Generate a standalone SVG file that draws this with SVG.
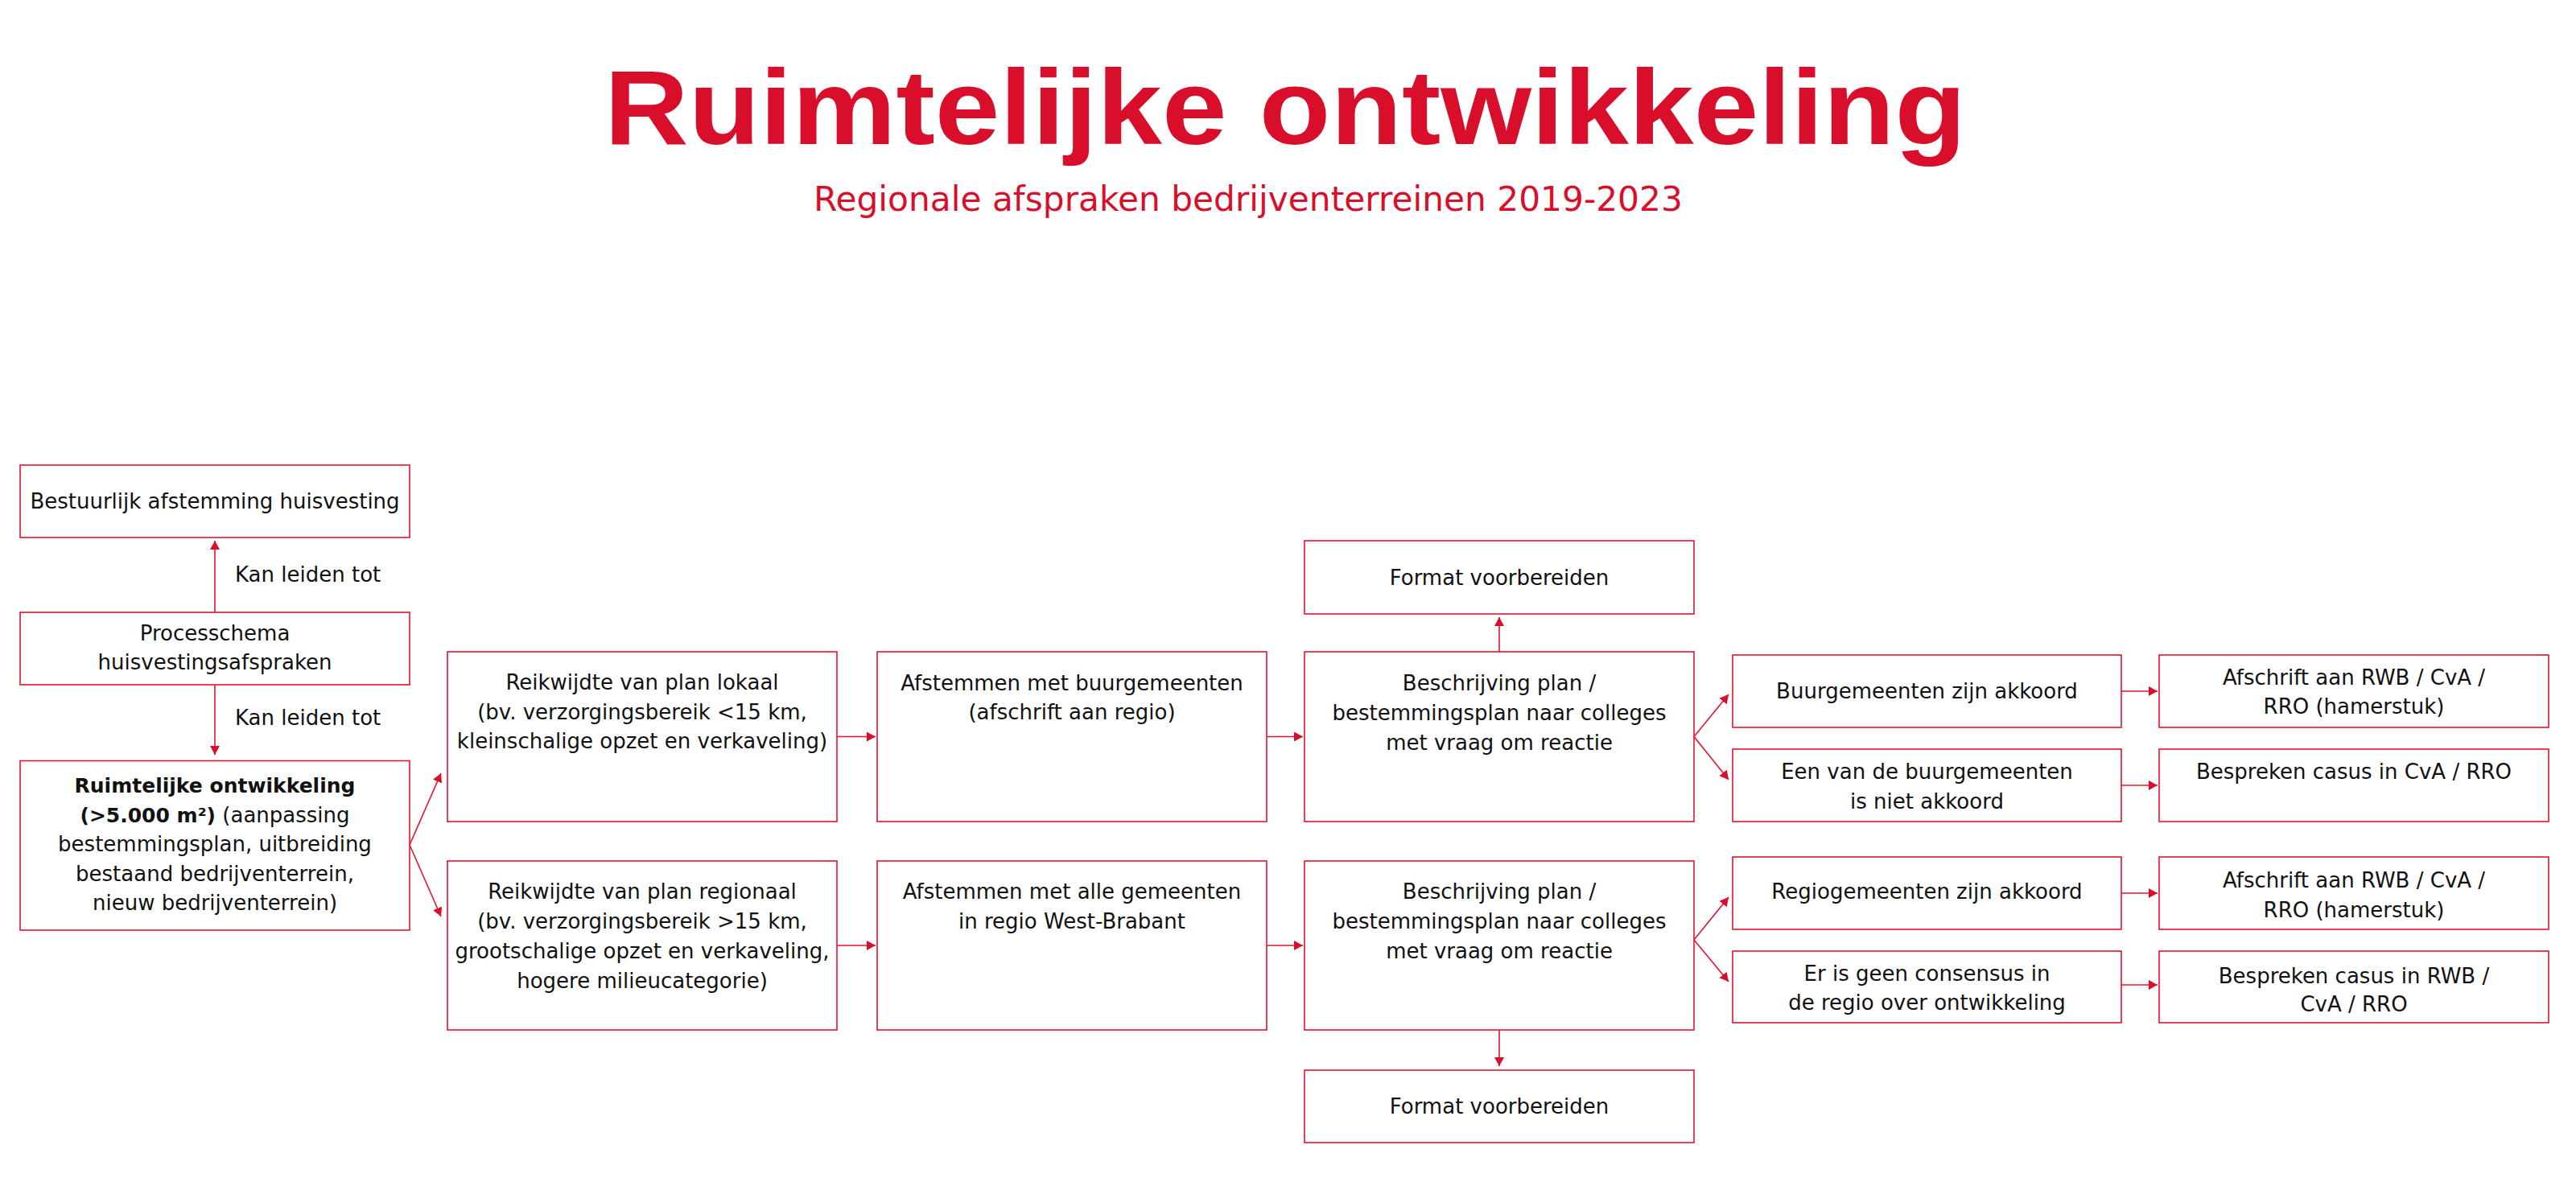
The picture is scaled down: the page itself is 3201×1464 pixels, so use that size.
<svg xmlns="http://www.w3.org/2000/svg" width="3201" height="1464" viewBox="0 0 3201 1464">
<style>
.bg{fill:#ffffff}
.box{fill:#ffffff;stroke:#E2142D;stroke-width:1.6}
.t{font-family:"DejaVu Sans","Liberation Sans",sans-serif;font-size:26px;fill:#111111;text-anchor:middle}
.lbl{font-family:"DejaVu Sans","Liberation Sans",sans-serif;font-size:26px;fill:#111111}
.b{font-weight:bold;font-size:25px}
.title{font-family:"Liberation Sans",Arial,sans-serif;font-weight:bold;font-size:131px;fill:#D80E2A}
.sub{font-family:"DejaVu Sans","Liberation Sans",sans-serif;font-size:42.3px;fill:#D80E2A}
.c{fill:none;stroke:#E2142D;stroke-width:1.6;marker-end:url(#ah)}
</style>
<defs>
<marker id="ah" markerUnits="userSpaceOnUse" markerWidth="12" markerHeight="12" refX="11" refY="6" orient="auto">
<path d="M0,0 L11,6 L0,12 z" fill="#D80E2A"/>
</marker>
</defs>
<rect class="bg" x="0" y="0" width="3201" height="1464"/>

<g id="header">
<text class="title" x="751" y="179" textLength="1692" lengthAdjust="spacingAndGlyphs">Ruimtelijke ontwikkeling</text>
<text class="sub" x="1011" y="262">Regionale afspraken bedrijventerreinen 2019-2023</text>
</g>

<g id="connectors">
<line class="c" x1="267" y1="761" x2="267" y2="672"/>
<line class="c" x1="267" y1="851" x2="267" y2="938"/>
<line class="c" x1="509" y1="1050" x2="548" y2="961"/>
<line class="c" x1="509" y1="1050" x2="548" y2="1139"/>
<line class="c" x1="1040" y1="915.5" x2="1088" y2="915.5"/>
<line class="c" x1="1040" y1="1175" x2="1088" y2="1175"/>
<line class="c" x1="1574" y1="915.5" x2="1619" y2="915.5"/>
<line class="c" x1="1574" y1="1175" x2="1619" y2="1175"/>
<line class="c" x1="1863" y1="810" x2="1863" y2="767"/>
<line class="c" x1="1863" y1="1280" x2="1863" y2="1325"/>
<line class="c" x1="2105" y1="915.5" x2="2148" y2="863"/>
<line class="c" x1="2105" y1="915.5" x2="2148" y2="969"/>
<line class="c" x1="2105" y1="1168" x2="2148" y2="1115"/>
<line class="c" x1="2105" y1="1168" x2="2148" y2="1220"/>
<line class="c" x1="2636" y1="859" x2="2681" y2="859"/>
<line class="c" x1="2636" y1="976" x2="2681" y2="976"/>
<line class="c" x1="2636" y1="1110" x2="2681" y2="1110"/>
<line class="c" x1="2636" y1="1224" x2="2681" y2="1224"/>
<text class="lbl" x="292" y="723">Kan leiden tot</text>
<text class="lbl" x="292" y="901">Kan leiden tot</text>
</g>

<g id="n-bestuurlijk">
<rect class="box" x="25" y="578" width="484" height="90"/>
<text class="t" x="267" y="632">Bestuurlijk afstemming huisvesting</text>
</g>

<g id="n-processchema">
<rect class="box" x="25" y="761" width="484" height="90"/>
<text class="t" x="267" y="796">Processchema</text>
<text class="t" x="267" y="832">huisvestingsafspraken</text>
</g>

<g id="n-ruimtelijke">
<rect class="box" x="25" y="945.5" width="484" height="210.5"/>
<text class="t b" x="267" y="985">Ruimtelijke ontwikkeling</text>
<text class="t" x="267" y="1022"><tspan class="b">(&gt;5.000 m²)</tspan> (aanpassing</text>
<text class="t" x="267" y="1058">bestemmingsplan, uitbreiding</text>
<text class="t" x="267" y="1095">bestaand bedrijventerrein,</text>
<text class="t" x="267" y="1131">nieuw bedrijventerrein)</text>
</g>

<g id="n-lokaal">
<rect class="box" x="556" y="810" width="484" height="211"/>
<text class="t" x="798" y="857">Reikwijdte van plan lokaal</text>
<text class="t" x="798" y="894">(bv. verzorgingsbereik &lt;15 km,</text>
<text class="t" x="798" y="930">kleinschalige opzet en verkaveling)</text>
</g>

<g id="n-regionaal">
<rect class="box" x="556" y="1070" width="484" height="210"/>
<text class="t" x="798" y="1117">Reikwijdte van plan regionaal</text>
<text class="t" x="798" y="1154">(bv. verzorgingsbereik &gt;15 km,</text>
<text class="t" x="798" y="1191">grootschalige opzet en verkaveling,</text>
<text class="t" x="798" y="1228">hogere milieucategorie)</text>
</g>

<g id="n-afstemmen-buur">
<rect class="box" x="1090" y="810" width="484" height="211"/>
<text class="t" x="1332" y="858">Afstemmen met buurgemeenten</text>
<text class="t" x="1332" y="894">(afschrift aan regio)</text>
</g>

<g id="n-afstemmen-alle">
<rect class="box" x="1090" y="1070" width="484" height="210"/>
<text class="t" x="1332" y="1117">Afstemmen met alle gemeenten</text>
<text class="t" x="1332" y="1154">in regio West-Brabant</text>
</g>

<g id="n-format-top">
<rect class="box" x="1621" y="672" width="484" height="91"/>
<text class="t" x="1863" y="727">Format voorbereiden</text>
</g>

<g id="n-beschrijving-top">
<rect class="box" x="1621" y="810" width="484" height="211"/>
<text class="t" x="1863" y="858">Beschrijving plan /</text>
<text class="t" x="1863" y="895">bestemmingsplan naar colleges</text>
<text class="t" x="1863" y="932">met vraag om reactie</text>
</g>

<g id="n-beschrijving-bottom">
<rect class="box" x="1621" y="1070" width="484" height="210"/>
<text class="t" x="1863" y="1117">Beschrijving plan /</text>
<text class="t" x="1863" y="1154">bestemmingsplan naar colleges</text>
<text class="t" x="1863" y="1191">met vraag om reactie</text>
</g>

<g id="n-format-bottom">
<rect class="box" x="1621" y="1330" width="484" height="90"/>
<text class="t" x="1863" y="1384">Format voorbereiden</text>
</g>

<g id="n-buur-akkoord">
<rect class="box" x="2153" y="814" width="483" height="90"/>
<text class="t" x="2394.5" y="868">Buurgemeenten zijn akkoord</text>
</g>

<g id="n-buur-niet">
<rect class="box" x="2153" y="931" width="483" height="90"/>
<text class="t" x="2394.5" y="968">Een van de buurgemeenten</text>
<text class="t" x="2394.5" y="1005">is niet akkoord</text>
</g>

<g id="n-regio-akkoord">
<rect class="box" x="2153" y="1065" width="483" height="90"/>
<text class="t" x="2394.5" y="1117">Regiogemeenten zijn akkoord</text>
</g>

<g id="n-geen-consensus">
<rect class="box" x="2153" y="1182" width="483" height="89"/>
<text class="t" x="2394.5" y="1219">Er is geen consensus in</text>
<text class="t" x="2394.5" y="1255">de regio over ontwikkeling</text>
</g>

<g id="n-afschrift-1">
<rect class="box" x="2683" y="814" width="484" height="90"/>
<text class="t" x="2925" y="851">Afschrift aan RWB / CvA /</text>
<text class="t" x="2925" y="887">RRO (hamerstuk)</text>
</g>

<g id="n-bespreken-1">
<rect class="box" x="2683" y="931" width="484" height="90"/>
<text class="t" x="2925" y="968">Bespreken casus in CvA / RRO</text>
</g>

<g id="n-afschrift-2">
<rect class="box" x="2683" y="1065" width="484" height="90"/>
<text class="t" x="2925" y="1103">Afschrift aan RWB / CvA /</text>
<text class="t" x="2925" y="1140">RRO (hamerstuk)</text>
</g>

<g id="n-bespreken-2">
<rect class="box" x="2683" y="1182" width="484" height="89"/>
<text class="t" x="2925" y="1222">Bespreken casus in RWB /</text>
<text class="t" x="2925" y="1257">CvA / RRO</text>
</g>
</svg>
